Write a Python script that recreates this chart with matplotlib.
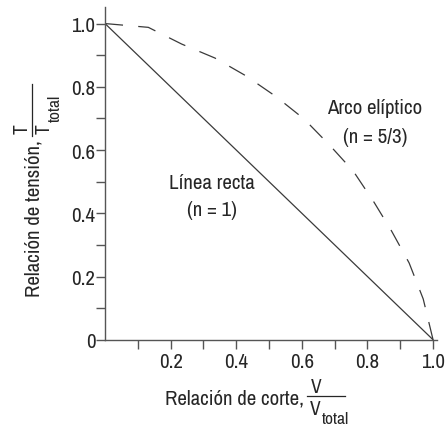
import matplotlib
matplotlib.use("Agg")
import matplotlib.pyplot as plt
from matplotlib.lines import Line2D
from matplotlib.ticker import FixedLocator

FONT = 'Archivo Narrow'
plt.rcParams['font.family'] = [FONT, 'DejaVu Sans']
plt.rcParams['lines.scale_dashes'] = False

# Data
straight_x = [0.0, 1.0]
straight_y = [1.0, 0.0]
ellip_x = [0.0, 0.132, 0.234, 0.335, 0.429, 0.520, 0.607, 0.686, 0.757, 0.820, 0.874, 0.927, 0.970, 1.0]
ellip_y = [1.0, 0.988, 0.935, 0.891, 0.835, 0.770, 0.698, 0.614, 0.533, 0.435, 0.343, 0.243, 0.129, 0.0]
x_ticks = [0.2, 0.4, 0.6, 0.8, 1.0]
x_ticklabels = ['0.2', '0.4', '0.6', '0.8', '1.0']
y_ticks = [0.0, 0.2, 0.4, 0.6, 0.8, 1.0]
y_ticklabels = ['0', '0.2', '0.4', '0.6', '0.8', '1.0']
minor_ticks = [0.1, 0.3, 0.5, 0.7, 0.9]

W, H = 445, 427
TXT = '#262626'
fig = plt.figure(figsize=(W / 100, H / 100), dpi=100)
ax = fig.add_axes([0.236, 0.202, 0.746, 0.779])
ax.set_xlim(0, 1.012)
ax.set_ylim(0, 1.052)

ax.plot(straight_x, straight_y, color='#3a3a3a', lw=0.9)
ax.plot(ellip_x, ellip_y, color='#3a3a3a', lw=0.9, dashes=(13, 11))

for s in ['top', 'right']:
    ax.spines[s].set_visible(False)
for s in ['left', 'bottom']:
    ax.spines[s].set_color('#555555')
    ax.spines[s].set_linewidth(1.0)

ax.xaxis.set_major_locator(FixedLocator(x_ticks))
ax.set_xticklabels(x_ticklabels)
ax.xaxis.set_minor_locator(FixedLocator(minor_ticks))
ax.yaxis.set_major_locator(FixedLocator(y_ticks))
ax.set_yticklabels(y_ticklabels)
ax.yaxis.set_minor_locator(FixedLocator(minor_ticks))
ax.tick_params(which='both', direction='out', length=6.5, width=1.0, color='#555555',
               labelsize=15, labelcolor=TXT)
ax.tick_params(axis='y', pad=0.5)
ax.tick_params(axis='x', pad=2)

FS = 15
ax.text(0.823, 0.735, 'Arco elíptico', ha='center', va='center', fontsize=FS, color=TXT)
ax.text(0.823, 0.644, '(n = 5/3)', ha='center', va='center', fontsize=FS, color=TXT)
ax.text(0.325, 0.498, 'Línea recta', ha='center', va='center', fontsize=FS, color=TXT)
ax.text(0.325, 0.413, '(n = 1)', ha='center', va='center', fontsize=FS, color=TXT)


def ptxt(px, py, s, fs, ha, va, rot=0):
    fig.text(px / W, 1 - py / H, s, fontsize=fs, ha=ha, va=va, color=TXT,
             rotation=rot, rotation_mode='anchor')


def pline(x0, y0, x1, y1):
    fig.add_artist(Line2D([x0 / W, x1 / W], [1 - y0 / H, 1 - y1 / H],
                          transform=fig.transFigure, color=TXT, lw=0.9))


FR = 14
SUB = 12.5
# x-axis label: Relación de corte, V / V_total
ptxt(304, 405, 'Relación de corte,', FS, 'right', 'baseline')
pline(307, 397, 345, 397)
ptxt(316, 393, 'V', FR, 'center', 'baseline')
ptxt(315, 415, 'V', FR, 'center', 'baseline')
ptxt(322, 424, 'total', SUB, 'left', 'baseline')

# y-axis label: Relación de tensión, T / T_total
ptxt(40, 140, 'Relación de tensión,', FS, 'right', 'baseline', 90)
pline(32, 137, 32, 85)
ptxt(28, 129, 'T', FR, 'center', 'baseline', 90)
ptxt(50, 129, 'T', FR, 'center', 'baseline', 90)
ptxt(60, 122, 'total', SUB, 'left', 'baseline', 90)

fig.savefig('out.png', dpi=100)
